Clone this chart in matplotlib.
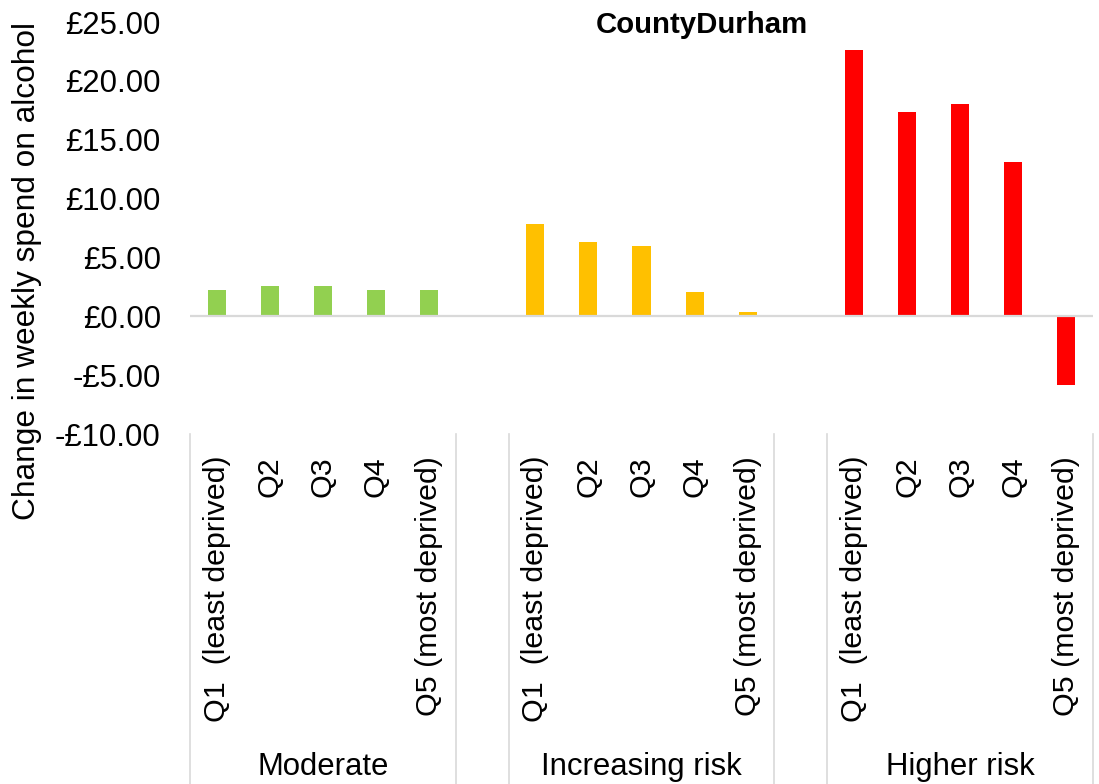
import matplotlib
matplotlib.use("Agg")
import matplotlib.pyplot as plt
from matplotlib.lines import Line2D
from matplotlib.ticker import FuncFormatter
import matplotlib.transforms as mtransforms

plt.rcParams['font.family'] = ['Liberation Sans', 'DejaVu Sans']

# ---- data ----
title = "CountyDurham"
y_label = "Change in weekly spend on alcohol"
groups = ["Moderate", "Increasing risk", "Higher risk"]
quintiles = ["Q1  (least deprived)", "Q2", "Q3", "Q4", "Q5 (most deprived)"]
moderate = [2.25, 2.6, 2.6, 2.25, 2.25]
increasing_risk = [7.8, 6.3, 5.95, 2.05, 0.35]
higher_risk = [22.6, 17.35, 18.05, 13.1, -5.8]
series = [moderate, increasing_risk, higher_risk]
colors = ["#92D050", "#FFC000", "#FF0000"]
y_ticks = [-10, -5, 0, 5, 10, 15, 20, 25]

W, H = 1099, 784
fig = plt.figure(figsize=(W / 100, H / 100), dpi=100)
ax_left, ax_right, ax_top, ax_bot = 190, 1093, 22, 434
ax = fig.add_axes([ax_left / W, 1 - ax_bot / H, (ax_right - ax_left) / W, (ax_bot - ax_top) / H])

slot = len(quintiles) + 1
for g, vals in enumerate(series):
    xs = [g * slot + i for i in range(len(vals))]
    ax.bar(xs, vals, width=0.34, color=colors[g], zorder=2)

n_slots = slot * len(groups) - 1
ax.set_xlim(-0.5, n_slots - 0.5)
ax.set_ylim(-10, 25)
ax.axhline(0, color="#d9d9d9", lw=1.6, zorder=3)

for s in ax.spines.values():
    s.set_visible(False)
ax.set_xticks([])
ax.set_yticks(y_ticks)
ax.yaxis.set_major_formatter(FuncFormatter(lambda v, p: ("-£%.2f" % abs(v)) if v < 0 else "£%.2f" % v))
ax.tick_params(axis='y', length=0, pad=21, labelsize=22.4, labelcolor="black")

trans = mtransforms.blended_transform_factory(ax.transData, ax.transAxes)
ax_h = ax_bot - ax_top
label_top = -(456 - ax_bot) / ax_h
group_y = -(767 - ax_bot) / ax_h
sep_bottom = -(H - ax_bot) / ax_h

for g, gname in enumerate(groups):
    for i, q in enumerate(quintiles):
        ax.text(g * slot + i, label_top, q, rotation=90, ha='center', va='top',
                fontsize=21.9, transform=trans)
    ax.text(g * slot + (len(quintiles) - 1) / 2, group_y, gname, ha='center', va='center',
            fontsize=22.4, transform=trans)

bounds = []
for g in range(len(groups)):
    bounds.append(g * slot - 0.5)
    bounds.append(g * slot + len(quintiles) - 0.5)
for b in bounds:
    ax.add_line(Line2D([b, b], [0, sep_bottom], transform=trans, color="#d9d9d9",
                       lw=1.2, clip_on=False))

fig.text(702 / W, 1 - 25 / H, title, ha='center', va='center', fontsize=21.2, fontweight='bold')
fig.text(27 / W, 1 - 271 / H, y_label, rotation=90, ha='center', va='center', fontsize=22.8)

fig.savefig("out.png", dpi=100)
